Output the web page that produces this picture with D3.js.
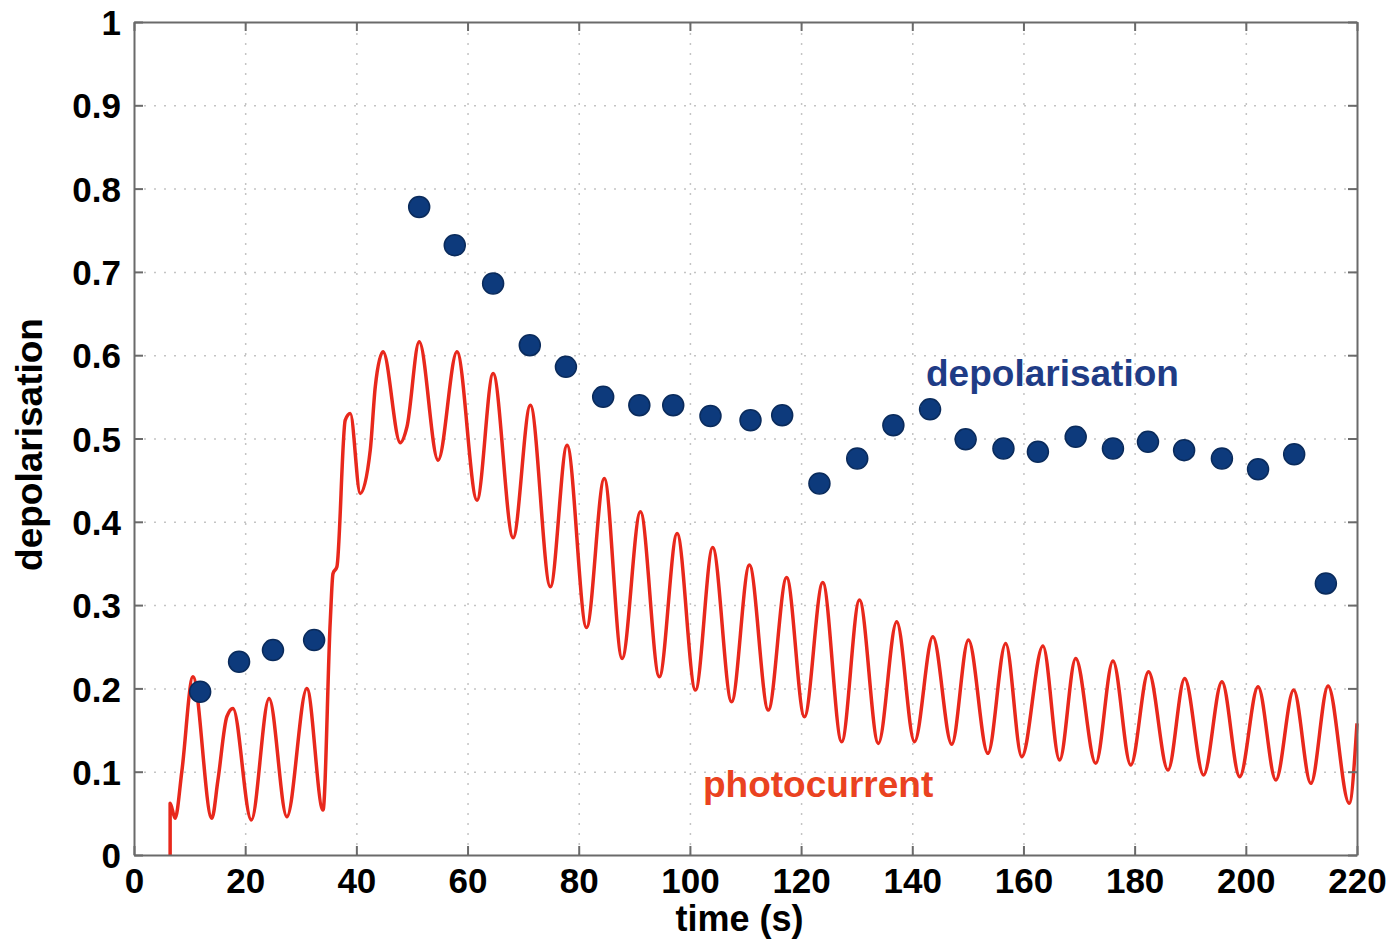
<!DOCTYPE html>
<html>
<head>
<meta charset="utf-8">
<script src="https://cdn.jsdelivr.net/npm/d3@7"></script>
<style>
  body { margin: 0; background: #fff; }
  svg text { font-family: "Liberation Sans", Arial, sans-serif; font-weight: bold; }
  .grid line { stroke: #c4c4c4; stroke-width: 1.5; stroke-dasharray: 2,8; }
  .grid .domain { display: none; }
  .axis .domain { stroke: #6a6a6a; stroke-width: 2; }
  .axis line { stroke: #6a6a6a; stroke-width: 2; }
</style>
</head>
<body>
<svg class="chart"></svg>
<script>
// photocurrent trace (peaks, troughs and a few shoulders)
const currentTime = [6.5, 6.5, 7.4, 8.6, 10.6, 14.0, 15.1, 16.7, 17.8, 21.1, 24.3, 27.5, 31.1, 34.0,
  35.3, 35.8, 36.5, 38.0, 38.9, 40.7, 42.5, 43.4, 44.8, 47.9, 49.1, 51.3, 54.7, 58.1, 61.7,
  64.6, 68.2, 71.3, 74.9, 77.9, 81.4, 84.6, 87.8, 91.1, 94.5, 97.7, 101.0, 104.1, 107.5,
  110.7, 114.1, 117.4, 120.6, 123.9, 127.3, 130.5, 133.9, 137.2, 140.4, 143.7, 147.1,
  150.1, 153.6, 156.8, 159.7, 163.5, 166.5, 169.4, 173.0, 176.1, 179.3, 182.5, 186.0,
  189.0, 192.4, 195.7, 198.9, 202.2, 205.4, 208.6, 211.7, 214.8, 218.6, 220];
const currentValue = [0, 0.062, 0.044, 0.10, 0.214, 0.044, 0.09, 0.166, 0.176, 0.042, 0.188, 0.046, 0.200, 0.054,
  0.28, 0.338, 0.346, 0.522, 0.530, 0.434, 0.486, 0.562, 0.604, 0.495, 0.514, 0.616, 0.474, 0.604, 0.426,
  0.578, 0.381, 0.540, 0.322, 0.492, 0.273, 0.452, 0.236, 0.412, 0.214, 0.386, 0.198, 0.369, 0.184,
  0.348, 0.174, 0.333, 0.166, 0.327, 0.136, 0.306, 0.134, 0.280, 0.136, 0.262, 0.133,
  0.258, 0.122, 0.254, 0.118, 0.251, 0.114, 0.236, 0.110, 0.233, 0.108, 0.220, 0.102,
  0.212, 0.096, 0.208, 0.094, 0.202, 0.090, 0.198, 0.086, 0.203, 0.062, 0.158];

// depolarisation measurements
const depolTime = [11.9, 18.9, 25.0, 32.4, 51.3, 57.7, 64.6, 71.2, 77.7, 84.4, 90.9, 97.0, 103.7, 110.9, 116.6,
  123.3, 130.1, 136.6, 143.2, 149.6, 156.4, 162.6, 169.4, 176.1, 182.4, 188.9, 195.7, 202.2, 208.7, 214.4];
const depolValue = [0.196, 0.232, 0.246, 0.258, 0.778, 0.732, 0.686, 0.612, 0.586, 0.550, 0.540, 0.540, 0.527, 0.522, 0.528,
  0.446, 0.476, 0.516, 0.535, 0.499, 0.488, 0.484, 0.502, 0.488, 0.496, 0.486, 0.476, 0.463, 0.481, 0.326];

const xTicks = [0, 20, 40, 60, 80, 100, 120, 140, 160, 180, 200, 220];
const yTicks = [0, 0.1, 0.2, 0.3, 0.4, 0.5, 0.6, 0.7, 0.8, 0.9, 1];
const yTickLabels = ['0', '0.1', '0.2', '0.3', '0.4', '0.5', '0.6', '0.7', '0.8', '0.9', '1'];

const margin = {top: 22, right: 38, bottom: 94, left: 134};
const width = 1395 - margin.left - margin.right;
const height = 949 - margin.top - margin.bottom;

const x = d3.scaleLinear().domain([0, 220]).range([0, width]);
const y = d3.scaleLinear().domain([0, 1]).range([height, 0]);

const svg = d3.select('.chart')
  .attr('width', 1395)
  .attr('height', 949);

const chart = svg.append('g')
  .attr('transform', `translate(${margin.left}, ${margin.top})`);

// dotted grid
chart.append('g')
  .attr('class', 'grid')
  .call(d3.axisLeft(y).tickValues(yTicks.slice(1, -1)).tickSize(-width).tickFormat(''));
chart.append('g')
  .attr('class', 'grid')
  .attr('transform', `translate(0, ${height})`)
  .call(d3.axisBottom(x).tickValues(xTicks.slice(1, -1)).tickSize(-height).tickFormat(''));

// photocurrent
const line = d3.line()
  .x((d, i) => x(currentTime[i]))
  .y(d => y(d))
  .curve(d3.curveMonotoneX);

chart.append('path')
  .datum(currentValue)
  .attr('fill', 'none')
  .attr('stroke', '#e8281c')
  .attr('stroke-width', 3.5)
  .attr('stroke-linejoin', 'round')
  .attr('d', line);

// depolarisation dots
chart.selectAll('.dot')
  .data(depolValue)
  .enter()
.append('circle')
  .attr('class', 'dot')
  .attr('cx', (d, i) => x(depolTime[i]))
  .attr('cy', d => y(d))
  .attr('r', 10.5)
  .attr('fill', '#0d3a7c')
  .attr('stroke', '#0a2b5c')
  .attr('stroke-width', 1.5);

// axes, MATLAB style box with inward ticks
const tickLen = 9;
chart.append('g')
  .attr('class', 'axis')
  .attr('transform', `translate(0, ${height})`)
  .call(d3.axisBottom(x).tickValues(xTicks).tickSizeInner(-tickLen).tickSizeOuter(0).tickPadding(13))
  .selectAll('text')
  .attr('fill', '#000')
  .style('font-size', '35px')
  .attr('dy', '0.71em');

chart.append('g')
  .attr('class', 'axis')
  .call(d3.axisLeft(y).tickValues(yTicks).tickSizeInner(-tickLen).tickSizeOuter(0).tickPadding(13)
    .tickFormat((d, i) => yTickLabels[i]))
  .selectAll('text')
  .attr('fill', '#000')
  .style('font-size', '35px')
  .attr('dy', '0.36em');

chart.append('g')
  .attr('class', 'axis')
  .call(d3.axisTop(x).tickValues(xTicks).tickSizeInner(-tickLen).tickSizeOuter(0).tickFormat(''));

chart.append('g')
  .attr('class', 'axis')
  .attr('transform', `translate(${width}, 0)`)
  .call(d3.axisRight(y).tickValues(yTicks).tickSizeInner(-tickLen).tickSizeOuter(0).tickFormat(''));

// axis titles
chart.append('text')
  .attr('x', width / 2 - 6)
  .attr('y', height + 76)
  .attr('text-anchor', 'middle')
  .style('font-size', '36px')
  .attr('fill', '#000')
  .text('time (s)');

chart.append('text')
  .attr('transform', `translate(${42 - margin.left}, ${height / 2 + 6}) rotate(-90)`)
  .attr('text-anchor', 'middle')
  .style('font-size', '37px')
  .attr('fill', '#000')
  .text('depolarisation');

// series labels
chart.append('text')
  .attr('x', 926 - margin.left)
  .attr('y', 386 - margin.top)
  .style('font-size', '37px')
  .attr('fill', '#1f3c86')
  .text('depolarisation');

chart.append('text')
  .attr('x', 703 - margin.left)
  .attr('y', 797 - margin.top)
  .style('font-size', '37px')
  .attr('fill', '#ea4220')
  .text('photocurrent');
</script>
</body>
</html>
